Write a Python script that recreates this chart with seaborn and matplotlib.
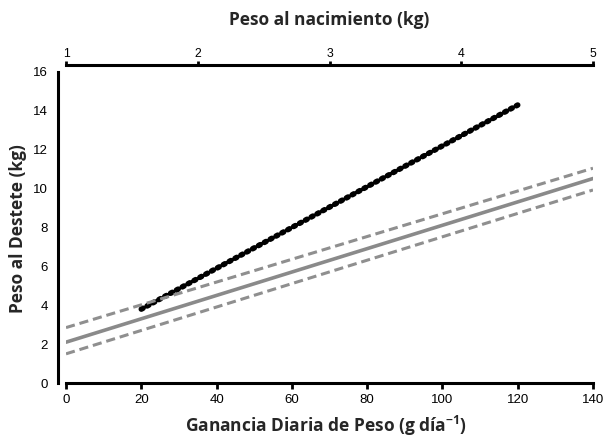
import matplotlib
matplotlib.use("Agg")
import matplotlib.pyplot as plt
import seaborn as sns
import pandas as pd

# Data
gdp_x = [0, 140]                 # Ganancia Diaria de Peso (g/dia)
pred_gdp = [2.1, 10.52]          # fitted line
upper_gdp = [2.85, 11.05]        # upper confidence band
lower_gdp = [1.5, 9.93]          # lower confidence band
pn_x = [20, 120]                 # black line extent (bottom-axis units)
pred_pn = [3.8, 14.3]

bottom_ticks = [0, 20, 40, 60, 80, 100, 120, 140]
top_ticks = [1, 2, 3, 4, 5]
y_ticks = [0, 2, 4, 6, 8, 10, 12, 14, 16]

sns.set_theme(style="white")
plt.rcParams['font.family'] = ['Liberation Sans', 'DejaVu Sans']
plt.rcParams['mathtext.fontset'] = 'custom'
plt.rcParams['mathtext.rm'] = 'Open Sans'
plt.rcParams['mathtext.bf'] = 'Open Sans:bold'

W, H = 606, 437
fig = plt.figure(figsize=(W/100, H/100), dpi=100)
ax = fig.add_axes([66/W, 1-383/H, (593-66)/W, (383-72)/H])

df_black = pd.DataFrame({'x': pn_x, 'y': pred_pn})
sns.lineplot(data=df_black, x='x', y='y', ax=ax, color='black', lw=4.0,
             linestyle=(0, (0.35, 0.85)), dash_capstyle='round')

df = pd.DataFrame({'x': gdp_x, 'pred': pred_gdp, 'up': upper_gdp, 'lo': lower_gdp})
sns.lineplot(data=df, x='x', y='pred', ax=ax, color='#8a8a8a', lw=2.6)
sns.lineplot(data=df, x='x', y='up', ax=ax, color='#8f8f8f', lw=2.2, linestyle=(0, (3, 1.6)))
sns.lineplot(data=df, x='x', y='lo', ax=ax, color='#8f8f8f', lw=2.2, linestyle=(0, (3, 1.6)))

ax.set_xlim(0, 140)
ax.set_ylim(0, 16)
ax.set_xticks(bottom_ticks)
ax.set_yticks(y_ticks)
ax.tick_params(axis='both', direction='out', length=4, width=2, labelsize=9.5,
               colors='black', pad=3)
ax.tick_params(axis='x', pad=4)
for s in ['right', 'top']:
    ax.spines[s].set_visible(False)
for s in ['left', 'bottom']:
    ax.spines[s].set_linewidth(2.2)
    ax.spines[s].set_color('black')
ax.spines['left'].set_position(('outward', 6))
ax.set_xlabel('')
ax.set_ylabel('')

lab_font = dict(family=['Open Sans', 'DejaVu Sans'], fontweight='bold', fontsize=12.5)
fig.text(326/W, 1-426/H, 'Ganancia Diaria de Peso (g día$^{\\mathbf{-1}}$)',
         ha='center', va='center', **lab_font)
fig.text(18/W, 1-229/H, 'Peso al Destete (kg)', rotation=90,
         ha='center', va='center', **lab_font)
fig.text(329/W, 1-20/H, 'Peso al nacimiento (kg)',
         ha='center', va='center', **lab_font)

ax2 = ax.twiny()
ax2.set_xlim(1, 5)
ax2.set_xticks(top_ticks)
ax2.tick_params(axis='x', direction='out', length=3, width=2, labelsize=8.8,
                colors='black', pad=0.5)
for s in ['right', 'bottom', 'left']:
    ax2.spines[s].set_visible(False)
ax2.spines['top'].set_linewidth(2.2)
ax2.spines['top'].set_color('black')
ax2.spines['top'].set_position(('outward', 5))
ax2.set_xlabel('')
ax2.grid(False)
ax.grid(False)

fig.savefig('out.png', dpi=100)
